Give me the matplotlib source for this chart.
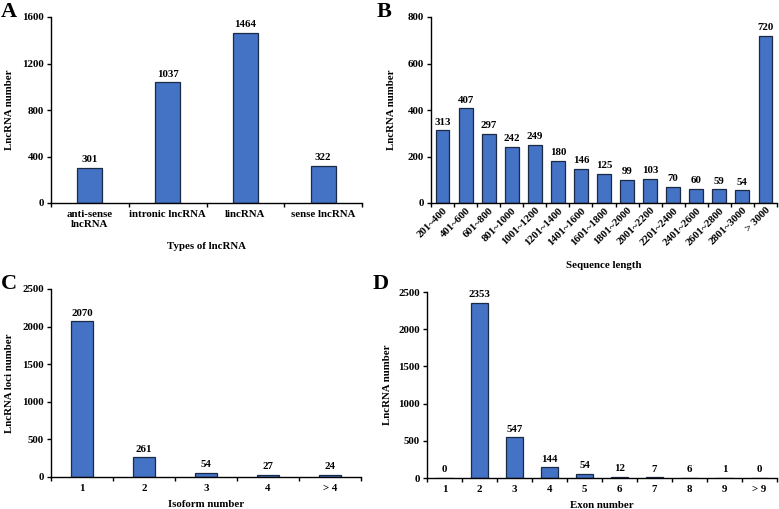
import matplotlib
matplotlib.use("Agg")
import matplotlib.pyplot as plt
from matplotlib.ticker import FixedLocator

plt.rcParams['font.family'] = ['Liberation Serif', 'DejaVu Serif']
plt.rcParams['font.weight'] = 'bold'

# ---- data ----
a_cats = ["anti-sense\nlncRNA", "intronic lncRNA", "lincRNA", "sense lncRNA"]
a_vals = [301, 1037, 1464, 322]

b_cats = ["201~400", "401~600", "601~800", "801~1000", "1001~1200", "1201~1400",
          "1401~1600", "1601~1800", "1801~2000", "2001~2200", "2201~2400",
          "2401~2600", "2601~2800", "2801~3000", "> 3000"]
b_vals = [313, 407, 297, 242, 249, 180, 146, 125, 99, 103, 70, 60, 59, 54, 720]

c_cats = ["1", "2", "3", "4", "> 4"]
c_vals = [2070, 261, 54, 27, 24]

d_cats = ["1", "2", "3", "4", "5", "6", "7", "8", "9", "> 9"]
d_vals = [0, 2353, 547, 144, 54, 12, 7, 6, 1, 0]

W, H = 779, 509
fig = plt.figure(figsize=(W / 100, H / 100), dpi=100)

BAR = '#4472C4'
EDGE = '#1a2a45'
FS = 7.8

def make_ax(l, r, t, b):
    return fig.add_axes([l / W, (H - b) / H, (r - l) / W, (b - t) / H])

def panel(ax, cats, vals, width, ymax, ystep, ylabel, rot=0, lab_off=0.02):
    n = len(cats)
    x = list(range(n))
    ax.bar(x, vals, width=width, color=BAR, edgecolor=EDGE, linewidth=0.9, zorder=2)
    ax.set_xlim(-0.5, n - 0.5)
    ax.set_ylim(0, ymax)
    ax.set_yticks(list(range(0, ymax + 1, ystep)))
    for s in ['top', 'right']:
        ax.spines[s].set_visible(False)
    for s in ['left', 'bottom']:
        ax.spines[s].set_linewidth(1.0)
        ax.spines[s].set_color('black')
    ax.set_xticks(x)
    if rot:
        ax.set_xticklabels(cats, rotation=45, ha='right', rotation_mode='anchor', fontsize=FS, fontweight='bold')
    else:
        ax.set_xticklabels(cats, fontsize=FS, fontweight='bold')
    ax.tick_params(axis='x', which='major', length=0, pad=5)
    ax.xaxis.set_minor_locator(FixedLocator([i - 0.5 for i in range(n + 1)]))
    ax.tick_params(axis='x', which='minor', length=3, width=1.0, direction='out')
    ax.tick_params(axis='y', length=3, width=1.0, direction='out', labelsize=FS, pad=2)
    for lab in ax.get_yticklabels():
        lab.set_fontweight('bold')
    ax.set_ylabel(ylabel, fontsize=FS, fontweight='bold')
    for xi, v in zip(x, vals):
        ax.text(xi, v + ymax * lab_off, str(v), ha='center', va='bottom', fontsize=FS, fontweight='bold')

# Panel A
axA = make_ax(51, 362, 17, 203)
panel(axA, a_cats, a_vals, 0.32, 1600, 400, "LncRNA number")
axA.set_xlabel("Types of lncRNA", fontsize=FS, fontweight='bold', labelpad=9)
axA.yaxis.set_label_coords(-0.12, 0.5)

# Panel B
axB = make_ax(431, 777, 17, 203)
panel(axB, b_cats, b_vals, 0.6, 800, 200, "LncRNA number", rot=45)
axB.tick_params(axis='x', which='major', pad=2)
axB.set_xlabel("Sequence length", fontsize=FS, fontweight='bold', labelpad=10)
axB.yaxis.set_label_coords(-0.1, 0.5)

# Panel C
axC = make_ax(51, 361, 289, 477)
panel(axC, c_cats, c_vals, 0.37, 2500, 500, "LncRNA loci number")
axC.set_xlabel("Isoform number", fontsize=FS, fontweight='bold', labelpad=5)
axC.yaxis.set_label_coords(-0.12, 0.5)

# Panel D
axD = make_ax(427, 777, 292, 478)
panel(axD, d_cats, d_vals, 0.46, 2500, 500, "LncRNA number")
axD.set_xlabel("Exon number", fontsize=FS, fontweight='bold', labelpad=5)
axD.yaxis.set_label_coords(-0.1, 0.5)

# Panel letters
for txt, px, py in [("A", 1, 17), ("B", 377, 17), ("C", 1, 289), ("D", 373, 289)]:
    fig.text(px / W, (H - py) / H, txt, fontsize=16, fontweight='bold', ha='left', va='baseline')

fig.savefig("out.png", dpi=100)
